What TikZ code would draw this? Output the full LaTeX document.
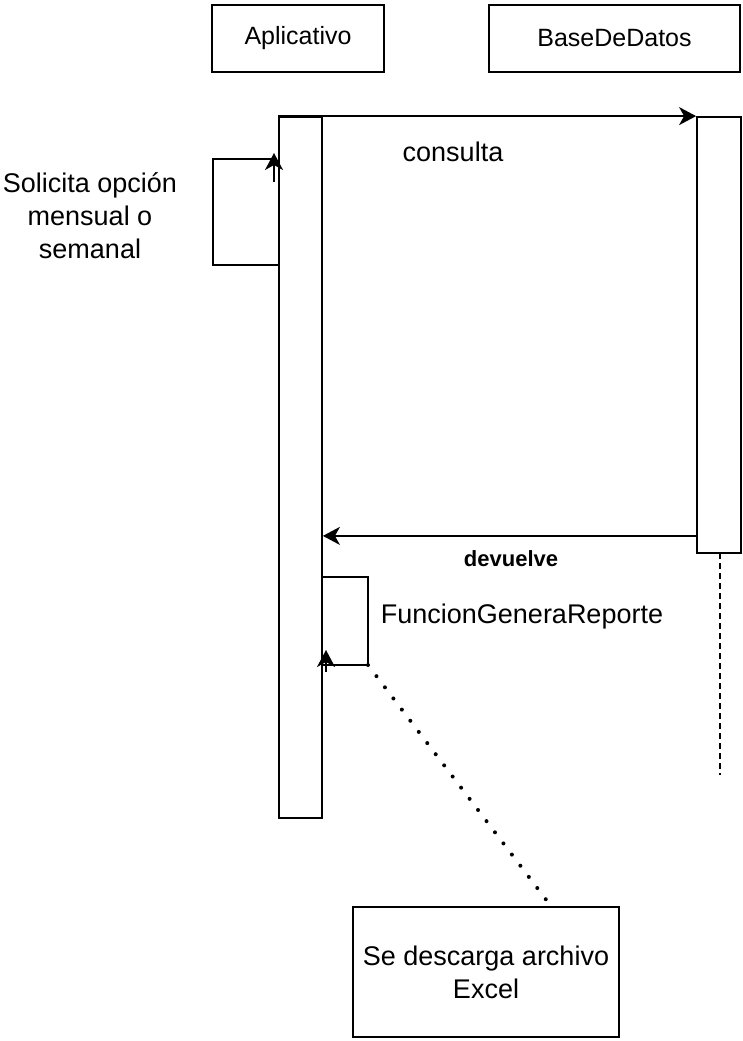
\documentclass[tikz,border=0pt]{standalone}
\usepackage{fontspec}
\setmainfont{Liberation Sans}
\usetikzlibrary{arrows.meta,positioning}

\begin{document}
\begin{tikzpicture}[x=1pt,y=-1pt,
  actor/.style={draw,line width=1.8pt,minimum height=67pt,inner sep=0pt,font=\fontsize{25}{30}\selectfont},
  bar/.style={draw,line width=1.8pt,inner sep=0pt,fill=white},
  note/.style={draw,line width=1.8pt,minimum width=266pt,minimum height=130pt,inner sep=0pt,align=center,font=\fontsize{27}{33}\selectfont},
  lbl/.style={align=center,inner sep=0pt,font=\fontsize{27}{33}\selectfont},
  arr/.style={-{Stealth[length=17pt,width=18pt,inset=5pt]},line width=1.8pt}
]
\useasboundingbox (0,0) rectangle (743,1041);

% lifelines
\node[actor,minimum width=172pt] (app) at (298,38.5) {Aplicativo};
\node[actor,minimum width=251pt] (bd) at (614.5,38.5) {BaseDeDatos};
\draw[line width=1.8pt,dash pattern=on 6pt off 4pt] (720,553) coordinate (bdtop) -- (720,775) coordinate (bdend);
\node[bar,minimum width=43pt,minimum height=701pt] (appbar) at (300.5,467.5) {};
\node[bar,minimum width=44pt,minimum height=436pt] (bdbar) at (719,335) {};

% self call: opcion
\coordinate (solA) at (279,265);
\coordinate (solB) at (213,265);
\coordinate (solC) at (213,159);
\coordinate (solD) at (277,159);
\draw[line width=1.8pt] (solA) -- (solB) -- (solC) -- (solD);
\draw[arr] (274,182) coordinate (solE) -- (274,153) coordinate (solF);
\node[lbl] (solicita) at (90,216) {Solicita opción\\mensual o\\semanal};

% messages
\draw[arr] (appbar.north west) -- (bdbar.north west);
\node[lbl] (consulta) at (453,152) {consulta};
\draw[arr] ([yshift=18pt]bdbar.south west) -- ([yshift=18pt]bdbar.south west -| appbar.east);
\node[lbl,font=\fontsize{22}{26}\selectfont\bfseries] (devuelve) at (511,559) {devuelve};

% self call: reporte
\coordinate (repA) at (322,577);
\coordinate (repB) at (368,577);
\coordinate (repC) at (368,665);
\coordinate (repD) at (322,665);
\draw[line width=1.8pt] (repA) -- (repB) -- (repC) -- (repD);
\draw[arr] (326,672) coordinate (repE) -- (326,650) coordinate (repF);
\node[lbl] (funcion) at (522,617) {FuncionGeneraReporte};

% note
\node[note] (excel) at (486,972) {Se descarga archivo\\Excel};
\draw[line width=4pt,line cap=round,dash pattern=on 0pt off 14pt] (repC) -- (excel.north -| 551,0);
\end{tikzpicture}
\end{document}
